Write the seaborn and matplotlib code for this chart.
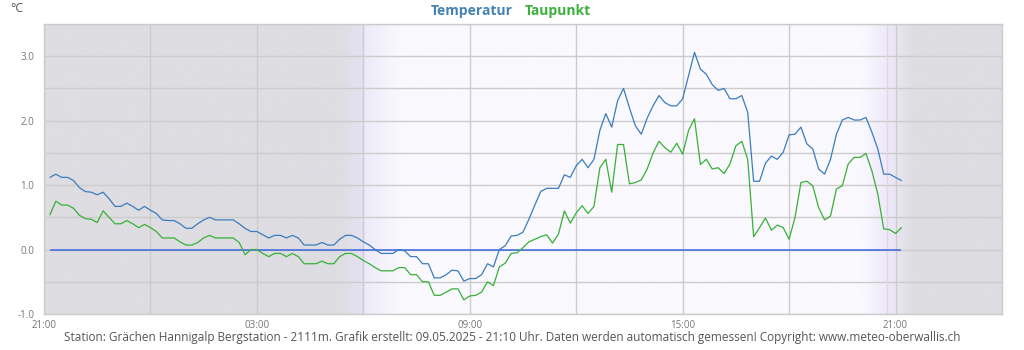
import numpy as np
import pandas as pd
import matplotlib
matplotlib.use("Agg")
import matplotlib.pyplot as plt
import matplotlib.dates as mdates
import seaborn as sns

# Messwerte alle 10 Minuten, 08.05.2025 21:10 bis 09.05.2025 21:10
start = "2025-05-08 21:10"
ende = "2025-05-09 21:10"

temperatur = [
    1.12, 1.17, 1.12, 1.12, 1.07, 0.96, 0.90, 0.89, 0.85, 0.89,
    0.79, 0.67, 0.67, 0.72, 0.67, 0.61, 0.67, 0.61, 0.56, 0.46,
    0.45, 0.45, 0.40, 0.33, 0.33, 0.40, 0.46, 0.50, 0.46, 0.46,
    0.46, 0.46, 0.40, 0.33, 0.28, 0.28, 0.23, 0.18, 0.22, 0.22,
    0.18, 0.22, 0.18, 0.07, 0.07, 0.07, 0.11, 0.07, 0.07, 0.16,
    0.22, 0.22, 0.18, 0.12, 0.07, 0.00, -0.06, -0.06, -0.06, 0.00,
    -0.02, -0.11, -0.11, -0.22, -0.22, -0.44, -0.44, -0.39, -0.32, -0.33,
    -0.49, -0.45,
    -0.45, -0.39, -0.22, -0.27, 0.00, 0.06, 0.21, 0.22, 0.27, 0.47,
    0.69, 0.90, 0.95, 0.95, 0.95, 1.16, 1.12, 1.30, 1.40, 1.27,
    1.40, 1.85, 2.11, 1.90, 2.31, 2.50, 2.20, 1.92, 1.79, 2.04,
    2.23, 2.39, 2.28, 2.23, 2.23, 2.34, 2.70, 3.06, 2.80, 2.72,
    2.56, 2.47, 2.50, 2.34, 2.34, 2.39, 2.13, 1.06, 1.06, 1.34,
    1.45, 1.40, 1.51, 1.78, 1.79, 1.90, 1.64, 1.56, 1.25, 1.17,
    1.40, 1.79, 2.01, 2.05, 2.01, 2.01, 2.05, 1.82, 1.56, 1.17,
    1.17, 1.12, 1.07,
]

taupunkt = [
    0.54, 0.75, 0.69, 0.69, 0.64, 0.53, 0.48, 0.47, 0.42, 0.60,
    0.50, 0.40, 0.40, 0.45, 0.40, 0.34, 0.39, 0.34, 0.28, 0.18,
    0.18, 0.18, 0.12, 0.07, 0.07, 0.11, 0.18, 0.22, 0.18, 0.18,
    0.18, 0.18, 0.11, -0.08, 0.00, 0.00, -0.06, -0.11, -0.06, -0.06,
    -0.11, -0.06, -0.11, -0.22, -0.22, -0.22, -0.18, -0.22, -0.22, -0.11,
    -0.06, -0.06, -0.11, -0.17, -0.22, -0.28, -0.33, -0.33, -0.33, -0.28,
    -0.28, -0.39, -0.39, -0.50, -0.50, -0.71, -0.71, -0.66, -0.61, -0.61,
    -0.78, -0.72,
    -0.71, -0.66, -0.50, -0.56, -0.27, -0.21, -0.06, -0.05, 0.03, 0.12,
    0.16, 0.20, 0.23, 0.10, 0.24, 0.60, 0.41, 0.57, 0.68, 0.56,
    0.67, 1.27, 1.40, 0.89, 1.63, 1.63, 1.02, 1.04, 1.08, 1.25,
    1.50, 1.68, 1.58, 1.51, 1.65, 1.48, 1.85, 2.03, 1.32, 1.40,
    1.25, 1.27, 1.18, 1.33, 1.61, 1.68, 1.40, 0.20, 0.34, 0.49,
    0.30, 0.38, 0.34, 0.16, 0.50, 1.04, 1.06, 0.99, 0.65, 0.46,
    0.52, 0.94, 0.99, 1.33, 1.43, 1.43, 1.49, 1.22, 0.86, 0.32,
    0.31, 0.25, 0.34,
]

y_ticks = [-1.0, 0.0, 1.0, 2.0, 3.0]
fusszeile = ("Station: Grächen Hannigalp Bergstation - 2111m. Grafik erstellt: 09.05.2025 - 21:10 Uhr. "
             "Daten werden automatisch gemessen! Copyright: www.meteo-oberwallis.ch")

zeit = pd.date_range(start, ende, freq="10min")
df = pd.DataFrame({"Zeit": zeit, "Temperatur": temperatur, "Taupunkt": taupunkt})

sns.set_theme(style="white")
plt.rcParams["font.family"] = ["Open Sans", "DejaVu Sans"]

fig = plt.figure(figsize=(10.24, 3.5), dpi=100)
ax = fig.add_axes([44 / 1024, 36 / 350, 958 / 1024, 290 / 350])

x0 = pd.Timestamp("2025-05-08 21:00")
x1 = pd.Timestamp("2025-05-10 00:00")
ax.set_xlim(x0, x1)
ax.set_ylim(-1.0, 3.5)

# Hintergrund: Nacht grau, Dämmerung lila, Tag fast weiss
h = np.linspace(0, 27, 2000)
nacht = np.array([222, 221, 226]) / 255
lila = np.array([228, 226, 242]) / 255
lila2 = np.array([238, 234, 250]) / 255
tag = np.array([250, 249, 254]) / 255
knoten = [0, 8.35, 9.01, 9.02, 10.1, 23.0, 23.77, 24.5, 27]
farben = [nacht, nacht, lila, lila2, tag, tag, lila2, nacht, nacht]
rgb = np.stack([np.interp(h, knoten, [f[c] for f in farben]) for c in range(3)], axis=-1)
ax.imshow(rgb[np.newaxis, :, :], aspect="auto", zorder=0,
          extent=[mdates.date2num(x0), mdates.date2num(x1), -1.0, 3.5])

sns.lineplot(data=df, x="Zeit", y="Temperatur", ax=ax, color="#3a7cbd", lw=0.9, zorder=4)
sns.lineplot(data=df, x="Zeit", y="Taupunkt", ax=ax, color="#37b037", lw=0.9, zorder=3)
ax.hlines(0, zeit[0], zeit[-1], color="#3b66dc", lw=1.1, zorder=2)

# Sonnenuntergang
ax.axvline(pd.Timestamp("2025-05-09 20:46"), color="#e2d6e0", lw=1.0, zorder=1)

ax.set_yticks(y_ticks)
ax.set_yticks(np.arange(-1.0, 3.51, 0.5), minor=True)
ax.set_yticklabels([f"{v:.1f}" for v in y_ticks])
ax.xaxis.set_major_locator(mdates.HourLocator(byhour=[3, 9, 15, 21]))
ax.xaxis.set_minor_locator(mdates.HourLocator(byhour=range(0, 24, 3)))
ax.xaxis.set_major_formatter(mdates.DateFormatter("%H:%M"))
ax.set_axisbelow(True)
ax.grid(True, which="both", color="#cccccc", lw=1.0)
ax.tick_params(axis="both", which="both", length=0, labelsize=7, colors="#777777")
ax.tick_params(axis="x", pad=4)
ax.tick_params(axis="y", pad=7)
ax.set_xlabel("")
ax.set_ylabel("")
for s in ax.spines.values():
    s.set_color("#cccccc")
    s.set_linewidth(1.0)

fig.text(513 / 1024, 1 - 11 / 350, "Temperatur", color="#4682b4", fontsize=10,
         fontweight="bold", ha="right", va="center")
fig.text(525 / 1024, 1 - 11 / 350, "Taupunkt", color="#3cb03c", fontsize=10,
         fontweight="bold", ha="left", va="center")
fig.text(10 / 1024, 1 - 8 / 350, "°C", color="#555555", fontsize=9, ha="left", va="center")
fig.text(512 / 1024, 13 / 350, fusszeile, color="#555555", fontsize=8.5, ha="center", va="center")

fig.savefig("out.png", dpi=100)
